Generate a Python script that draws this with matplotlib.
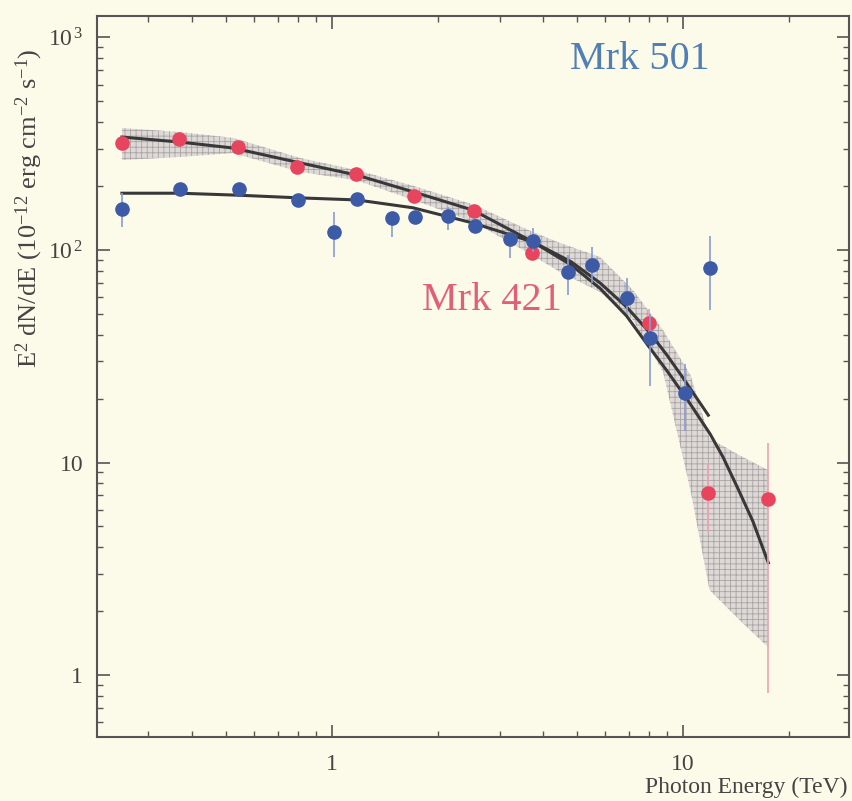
import numpy as np
import matplotlib
matplotlib.use("Agg")
import matplotlib.pyplot as plt

plt.rcParams['font.family'] = ['Liberation Serif', 'DejaVu Serif']
plt.rcParams['mathtext.fontset'] = 'custom'
plt.rcParams['mathtext.rm'] = 'Liberation Serif'
plt.rcParams['mathtext.it'] = 'Liberation Serif:italic'
plt.rcParams['hatch.linewidth'] = 0.6

# Mrk 421 points (TeV, E^2 dN/dE)
e421 = [0.252, 0.366, 0.540, 0.795, 1.17, 1.71, 2.54, 3.71, 8.0, 11.8, 17.5]
f421 = [319, 333, 305, 246, 228, 180, 153, 97, 45.3, 7.2, 6.7]
lo421 = [300, 318, 292, 236, 219, 172, 146, 92, 38, 4.7, 0.82]
hi421 = [338, 348, 318, 256, 237, 188, 160, 102, 53, 10, 12.3]

# Mrk 501 points
e501 = [0.252, 0.369, 0.543, 0.80, 1.01, 1.18, 1.48, 1.72, 2.14, 2.56, 3.21, 3.74,
        4.70, 5.50, 6.92, 8.05, 10.1, 11.9]
f501 = [156, 194, 194, 172, 122, 174, 141, 143, 145, 130, 113, 110,
        79, 85, 59.5, 38.5, 21.2, 82]
lo501 = [128, 184, 184, 163, 93, 165, 115, 135, 124, 121, 92, 98,
         61.5, 70, 50.5, 23, 14, 52]
hi501 = [185, 204, 204, 181, 151, 183, 150, 151, 159, 141, 120, 127,
         94.7, 103, 74, 50, 29, 117]

# fitted curves
c421_e = [0.252, 0.369, 0.522, 0.811, 1.178, 1.70, 2.52, 3.74, 4.8, 5.80, 6.9,
          7.95, 9.0, 10.3, 11.95, 13.0, 14.3, 15.8, 17.5]
c421_f = [340, 322, 302, 257, 225, 188, 154, 109, 85, 66, 49,
          35.5, 27, 19.7, 13.6, 10.6, 7.6, 5.3, 3.37]
c501_e = [0.252, 0.369, 0.543, 0.80, 1.178, 1.70, 2.52, 3.74, 4.8, 5.80, 6.9,
          8.05, 9.0, 9.95, 11.8]
c501_f = [185, 185, 181, 176, 172, 158, 134, 109, 88, 70, 54,
          40.7, 32, 25.3, 16.7]

# Mrk 421 uncertainty band
band_e = [0.252, 0.369, 0.522, 0.811, 1.17, 1.71, 2.54, 3.71, 4.46, 5.80, 7.20, 8.77,
          10.5, 11.9, 14.5, 17.5]
band_hi = [375, 359, 337, 271, 238, 200, 163, 122, 108, 92.7, 64.8, 42.0,
           25.8, 13.0, 10.8, 9.2]
band_lo = [265, 274, 286, 233, 213, 172, 135, 94.7, 78.8, 63.4, 46.9, 26.7,
           7.4, 2.51, 1.81, 1.35]

bg = '#fcfbea'
red = '#e8445e'
blue = '#3c5aa6'

fig = plt.figure(figsize=(8.53, 8.01), dpi=100, facecolor=bg)
ax = fig.add_axes([97/853, 1-737/801, (849-97)/853, (737-16)/801], facecolor=bg)
ax.set_xscale('log')
ax.set_yscale('log')
ax.set_xlim(0.214, 29.7)
ax.set_ylim(0.511, 1262)

ax.fill_between(band_e, band_lo, band_hi, facecolor='#dcd9d6', edgecolor='#aaa3a4',
                hatch='+++', linewidth=0, zorder=1)

ax.plot(c421_e, c421_f, color='#383838', lw=2.2, zorder=2)
ax.plot(c501_e, c501_f, color='#383838', lw=2.2, zorder=2)

f = np.array(f421)
ax.errorbar(e421, f, yerr=[f - np.array(lo421), np.array(hi421) - f], fmt='o',
            color=red, ecolor='#f0a0b0', elinewidth=1.2, ms=9.5, capsize=0, zorder=3)
f = np.array(f501)
ax.errorbar(e501, f, yerr=[f - np.array(lo501), np.array(hi501) - f], fmt='o',
            color=blue, ecolor='#8a9ad0', elinewidth=1.2, ms=9.5, capsize=0, zorder=4)

ax.text(7.54, 784, 'Mrk 501', color='#4f7fb5', fontsize=29, ha='center', va='center')
ax.text(2.86, 58, 'Mrk 421', color='#e0607a', fontsize=29, ha='center', va='center')

ax.set_xticks([1, 10])
ax.set_xticklabels(['1', '10'])
ax.set_yticks([1, 10, 100, 1000])
ax.set_yticklabels(['1', '10', r'$10^{\,2}$', r'$10^{\,3}$'])
ax.tick_params(which='both', direction='in', top=True, right=True, colors='#555555',
               labelcolor='#444444', labelsize=17)
ax.tick_params(which='major', length=9, width=1.2)
ax.tick_params(which='minor', length=4, width=1.0)
ax.tick_params(axis='x', pad=12)
ax.tick_params(axis='y', pad=10)
for s in ax.spines.values():
    s.set_color('#555555')
    s.set_linewidth(1.5)

fig.text(848/853, 1-798/801, 'Photon Energy (TeV)', ha='right', va='bottom',
         fontsize=17, color='#444444')
fig.text(29/853, 1-208/801, r'E$^2$ dN/dE (10$^{-12}$ erg cm$^{-2}$ s$^{-1}$)',
         rotation=90, ha='center', va='center', fontsize=19, color='#444444')

fig.savefig('out.png', dpi=100, facecolor=bg)
